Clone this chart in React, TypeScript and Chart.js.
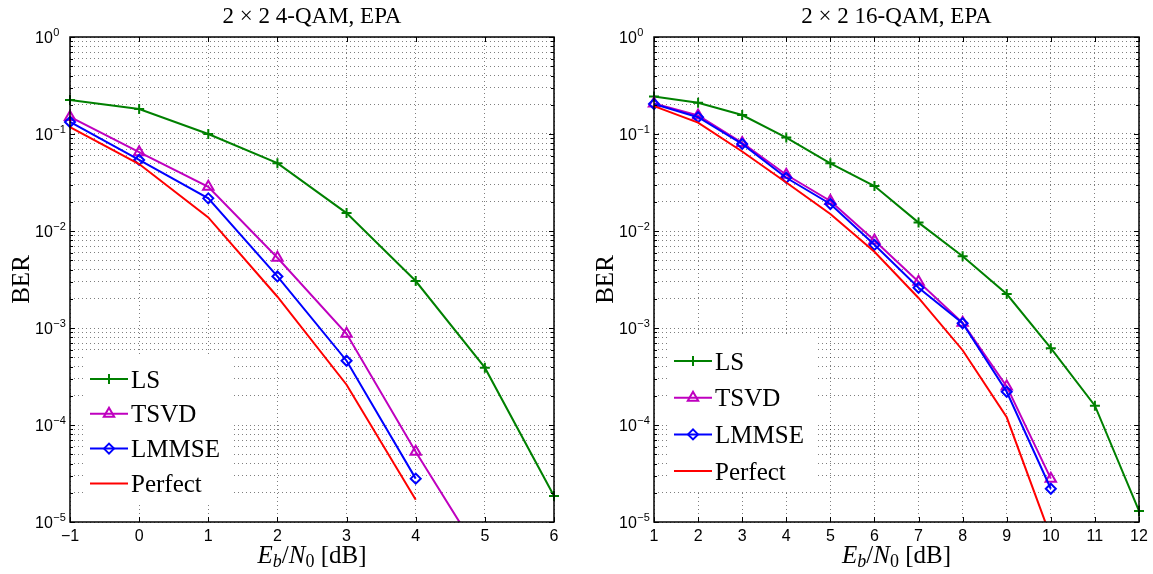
import React, { useEffect, useRef } from 'react';
import { Chart, registerables } from 'chart.js';
import { drawPoint } from 'chart.js/helpers';

Chart.register(...registerables);

// ---------- data ----------
const SERIES_NAMES = ['LS', 'TSVD', 'LMMSE', 'Perfect'];

const TITLE_LEFT = '2 × 2 4-QAM, EPA';
const X_LEFT = [-1, 0, 1, 2, 3, 4, 5, 6];
const LS_LEFT = [0.224, 0.181, 0.1, 0.05, 0.0153, 0.00305, 0.00039, 0.0000185];
const TSVD_LEFT = [0.15, 0.065, 0.0286, 0.0053, 0.00087, 0.000053, 0.0000038, null];
const LMMSE_LEFT = [0.133, 0.054, 0.0217, 0.0034, 0.00046, 0.000028, null, null];
const PERFECT_LEFT = [0.118, 0.049, 0.0138, 0.0021, 0.00026, 0.000017, null, null];
const X_TICKS_LEFT = [-1, 0, 1, 2, 3, 4, 5, 6];

const TITLE_RIGHT = '2 × 2 16-QAM, EPA';
const X_RIGHT = [1, 2, 3, 4, 5, 6, 7, 8, 9, 10, 11, 12];
const LS_RIGHT = [0.243, 0.21, 0.157, 0.092, 0.0499, 0.0291, 0.0122, 0.0055, 0.00224, 0.00062, 0.000158, 0.000013];
const TSVD_RIGHT = [0.206, 0.155, 0.081, 0.038, 0.0204, 0.008, 0.003, 0.00113, 0.00025, 0.000028, null, null];
const LMMSE_RIGHT = [0.204, 0.149, 0.079, 0.0354, 0.019, 0.0072, 0.0026, 0.00112, 0.00022, 0.000022, null, null];
const PERFECT_RIGHT = [0.194, 0.131, 0.066, 0.0316, 0.0150, 0.0061, 0.00204, 0.00059, 0.00012, 0.000007, null, null];
const X_TICKS_RIGHT = [1, 2, 3, 4, 5, 6, 7, 8, 9, 10, 11, 12];

const Y_MIN = 1e-5;
const Y_MAX = 1;
const Y_EXPONENTS = [-5, -4, -3, -2, -1, 0];

// ---------- styles ----------
const STYLES = [
  { color: '#008000', pointStyle: 'cross', radius: 5 },
  { color: '#bf00bf', pointStyle: 'triangle', radius: 6 },
  { color: '#0000ff', pointStyle: 'rectRot', radius: 5 },
  { color: '#ff0000', pointStyle: false, radius: 0 },
];
const SERIF = '"Liberation Serif", "Times New Roman", serif';
const SANS = '"Liberation Sans", Arial, sans-serif';

function minorTicks(): number[] {
  const out: number[] = [];
  for (let e = -5; e < 0; e++) {
    for (let m = 1; m <= 9; m++) out.push(m * Math.pow(10, e));
  }
  out.push(1);
  return out;
}

function fmtX(v: number) {
  return v < 0 ? '\u2212' + Math.abs(v) : String(v);
}

function decorPlugin(spec: any) {
  return {
    id: 'decor',
    afterDatasetsDraw(chart: any) {
      const { ctx, chartArea: a, scales } = chart;
      const xs = scales.x;
      const ys = scales.y;
      ctx.save();

      // legend
      const lg = spec.legend;
      const firstY = a.bottom - lg.fromBottom;
      const lastY = firstY + lg.step * 3;
      ctx.fillStyle = '#ffffff';
      ctx.fillRect(a.left + 15, firstY - 25, 147, lastY + 20 - (firstY - 25));
      SERIES_NAMES.forEach((name, i) => {
        const y = firstY + lg.step * i;
        const st = STYLES[i];
        ctx.strokeStyle = st.color;
        ctx.lineWidth = 2;
        ctx.beginPath();
        ctx.moveTo(a.left + 20, y);
        ctx.lineTo(a.left + 58, y);
        ctx.stroke();
        if (st.pointStyle) {
          ctx.fillStyle = 'rgba(0,0,0,0)';
          ctx.strokeStyle = st.color;
          ctx.lineWidth = 2;
          drawPoint(ctx, { pointStyle: st.pointStyle, radius: st.radius, borderWidth: 2, rotation: 0 }, a.left + 39, y);
        }
        ctx.fillStyle = '#000';
        ctx.font = '25px ' + SERIF;
        ctx.textAlign = 'left';
        ctx.textBaseline = 'alphabetic';
        ctx.fillText(name, a.left + 61, y + 8.5);
      });

      // box
      ctx.strokeStyle = '#000';
      ctx.lineWidth = 1.5;
      ctx.strokeRect(a.left, a.top, a.right - a.left, a.bottom - a.top);

      // inward ticks
      ctx.lineWidth = 1;
      spec.xTicks.forEach((v: number) => {
        const px = Math.round(xs.getPixelForValue(v)) + 0.5;
        ctx.beginPath();
        ctx.moveTo(px, a.bottom);
        ctx.lineTo(px, a.bottom - 5);
        ctx.moveTo(px, a.top);
        ctx.lineTo(px, a.top + 5);
        ctx.stroke();
      });
      minorTicks().forEach((v) => {
        const py = Math.round(ys.getPixelForValue(v)) + 0.5;
        const major = Math.abs(Math.log10(v) - Math.round(Math.log10(v))) < 1e-9;
        const len = major ? 5 : 3;
        ctx.beginPath();
        ctx.moveTo(a.left, py);
        ctx.lineTo(a.left + len, py);
        ctx.moveTo(a.right, py);
        ctx.lineTo(a.right - len, py);
        ctx.stroke();
      });

      // x tick labels
      ctx.fillStyle = '#000';
      ctx.font = '16px ' + SANS;
      ctx.textAlign = 'center';
      ctx.textBaseline = 'alphabetic';
      spec.xTicks.forEach((v: number) => {
        ctx.fillText(fmtX(v), xs.getPixelForValue(v), a.bottom + 18.5);
      });

      // y tick labels 10^k
      Y_EXPONENTS.forEach((e) => {
        const py = ys.getPixelForValue(Math.pow(10, e));
        const x0 = a.left - 35;
        ctx.textAlign = 'left';
        ctx.font = '16px ' + SANS;
        ctx.fillText('10', x0, py + 6);
        const w = ctx.measureText('10').width;
        ctx.font = '11px ' + SANS;
        ctx.fillText(fmtX(e), x0 + w + 0.5, py - 1.5);
      });

      // title
      ctx.font = '23px ' + SERIF;
      ctx.textAlign = 'center';
      ctx.fillText(spec.title, (a.left + a.right) / 2, 23);

      // y label
      ctx.save();
      ctx.translate(a.left - 41, (a.top + a.bottom) / 2);
      ctx.rotate(-Math.PI / 2);
      ctx.font = '25px ' + SERIF;
      ctx.textAlign = 'center';
      ctx.fillText('BER', 0, 0);
      ctx.restore();

      // x label: E_b/N_0 [dB]
      const parts = [
        { t: 'E', f: 'italic 25px ' + SERIF, dy: 0 },
        { t: 'b', f: 'italic 18px ' + SERIF, dy: 4 },
        { t: '/', f: '25px ' + SERIF, dy: 0 },
        { t: 'N', f: 'italic 25px ' + SERIF, dy: 0 },
        { t: '0', f: '18px ' + SERIF, dy: 4 },
        { t: ' [dB]', f: '25px ' + SERIF, dy: 0 },
      ];
      let total = 0;
      const widths = parts.map((p) => {
        ctx.font = p.f;
        const w = ctx.measureText(p.t).width;
        total += w;
        return w;
      });
      let cx = (a.left + a.right) / 2 - total / 2;
      ctx.textAlign = 'left';
      parts.forEach((p, i) => {
        ctx.font = p.f;
        ctx.fillText(p.t, cx, 563 + p.dy);
        cx += widths[i];
      });

      ctx.restore();
    },
  };
}

function buildConfig(spec: any) {
  const datasets = spec.series.map((vals: (number | null)[], i: number) => {
    const st = STYLES[i];
    const data = spec.x
      .map((x: number, j: number) => ({ x, y: vals[j] }))
      .filter((p: any) => p.y !== null);
    return {
      label: SERIES_NAMES[i],
      data,
      borderColor: st.color,
      backgroundColor: st.color,
      borderWidth: 2,
      pointStyle: st.pointStyle,
      pointRadius: st.radius,
      pointBorderWidth: 2,
      pointBorderColor: st.color,
      pointBackgroundColor: 'rgba(0,0,0,0)',
      tension: 0,
      order: 3 - i,
      clip: { left: 10, right: 10, top: 10, bottom: 0 },
    };
  });
  const gridColor = 'rgba(0,0,0,0.5)';
  return {
    type: 'line',
    data: { datasets },
    options: {
      responsive: false,
      animation: false,
      devicePixelRatio: 1,
      layout: { padding: { left: 0, right: spec.padRight, top: 37, bottom: 0 } },
      plugins: {
        legend: { display: false },
        title: { display: false },
        tooltip: { enabled: false },
      },
      scales: {
        x: {
          type: 'linear',
          min: spec.xMin,
          max: spec.xMax,
          afterBuildTicks: (s: any) => {
            s.ticks = spec.xTicks.map((v: number) => ({ value: v }));
          },
          afterFit: (s: any) => {
            s.height = 52;
          },
          ticks: { display: false },
          grid: { color: gridColor, lineWidth: 1, drawTicks: false },
          border: { display: false, dash: [1, 3] },
        },
        y: {
          type: 'logarithmic',
          min: Y_MIN,
          max: Y_MAX,
          afterBuildTicks: (s: any) => {
            s.ticks = minorTicks().map((v) => ({ value: v }));
          },
          afterFit: (s: any) => {
            s.width = spec.leftWidth;
          },
          ticks: { display: false },
          grid: { color: gridColor, lineWidth: 1, drawTicks: false },
          border: { display: false, dash: [1, 3] },
        },
      },
    },
    plugins: [decorPlugin(spec)],
  };
}

const LEFT_SPEC = {
  title: TITLE_LEFT,
  x: X_LEFT,
  series: [LS_LEFT, TSVD_LEFT, LMMSE_LEFT, PERFECT_LEFT],
  xMin: -1,
  xMax: 6,
  xTicks: X_TICKS_LEFT,
  leftWidth: 70,
  padRight: 22,
  legend: { fromBottom: 143, step: 34.8 },
};

const RIGHT_SPEC = {
  title: TITLE_RIGHT,
  x: X_RIGHT,
  series: [LS_RIGHT, TSVD_RIGHT, LMMSE_RIGHT, PERFECT_RIGHT],
  xMin: 1,
  xMax: 12,
  xTicks: X_TICKS_RIGHT,
  leftWidth: 78,
  padRight: 14,
  legend: { fromBottom: 161, step: 36.7 },
};

function Panel({ spec, left, width }: { spec: any; left: number; width: number }) {
  const ref = useRef<HTMLCanvasElement | null>(null);
  useEffect(() => {
    if (!ref.current) return;
    const chart = new Chart(ref.current, buildConfig(spec) as any);
    return () => chart.destroy();
  }, [spec]);
  return (
    <canvas
      ref={ref}
      width={width}
      height={574}
      style={{ position: 'absolute', left, top: 0, width, height: 574, display: 'block' }}
    />
  );
}

export default function App() {
  return (
    <div style={{ position: 'absolute', left: 0, top: 0, width: 1153, height: 574, background: '#fff' }}>
      <Panel spec={LEFT_SPEC} left={0} width={576} />
      <Panel spec={RIGHT_SPEC} left={576} width={577} />
    </div>
  );
}
